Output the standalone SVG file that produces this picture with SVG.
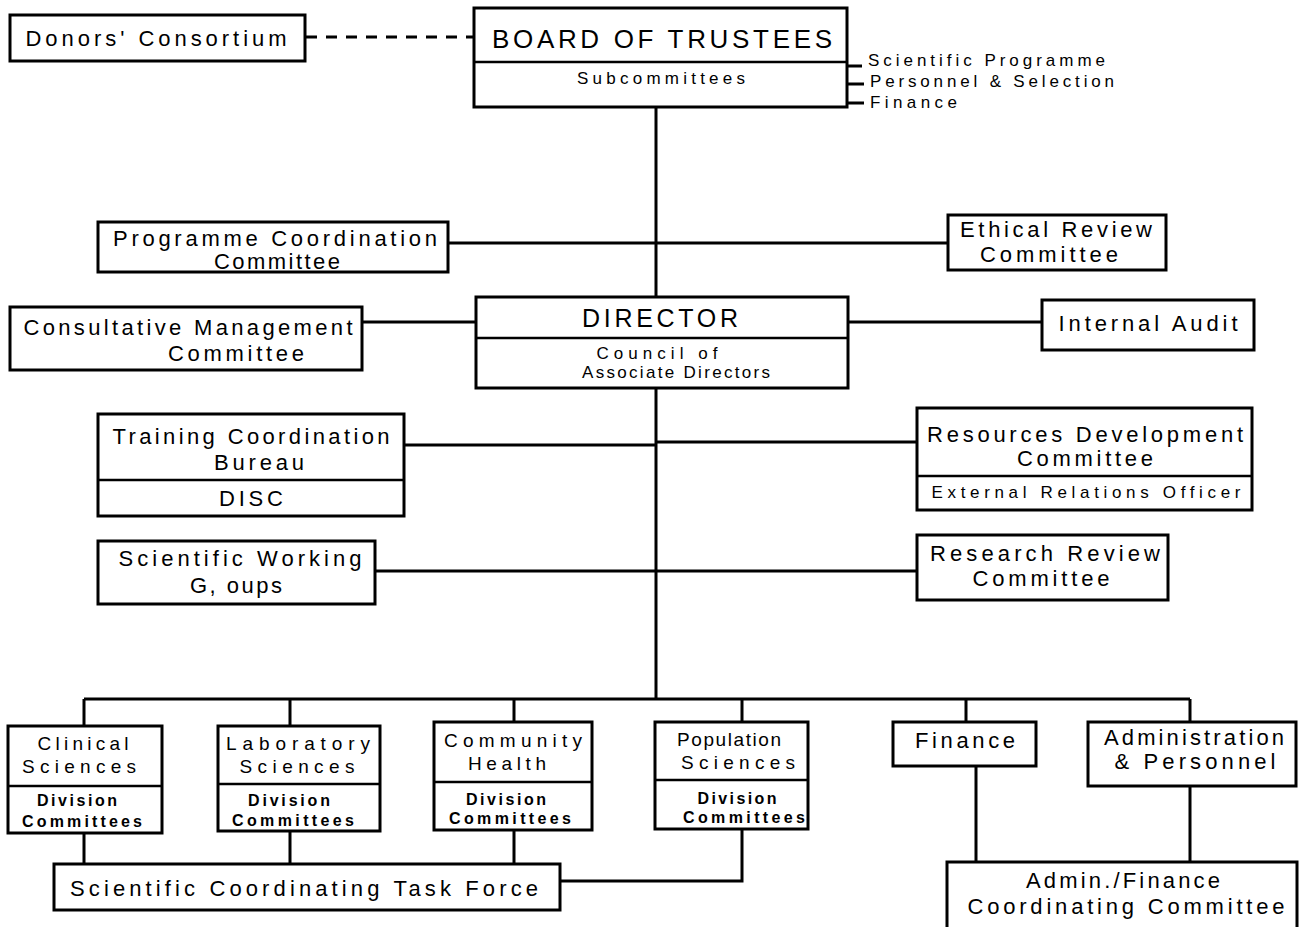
<svg xmlns="http://www.w3.org/2000/svg" width="1300" height="927" viewBox="0 0 1300 927">
<style>
.bx{fill:#fff;stroke:#000;stroke-width:3}
.dv{stroke:#000;stroke-width:2.5}
.ln{stroke:#000;stroke-width:3;fill:none}
.dash{stroke:#000;stroke-width:3;stroke-dasharray:11 9;fill:none}
text{font-family:"Liberation Sans",Arial,sans-serif;fill:#000;text-anchor:middle;font-size:22px}
.big{font-size:26px}
.dir{font-size:25px}
.t2{font-size:19px}
.sm{font-size:17px}
.sb{font-size:16px;font-weight:bold}
.lft{text-anchor:start;font-size:17px}
</style>
<rect width="1300" height="927" fill="#fff"/>
<g id="connectors">
<path class="dash" d="M306 37 H474"/>
<path class="ln" d="M656 107 V297 M656 388 V699"/>
<path class="ln" d="M448 243 H948"/>
<path class="ln" d="M362 322 H476 M848 322 H1042"/>
<path class="ln" d="M404 445 H656 M656 442 H917"/>
<path class="ln" d="M375 571 H917"/>
<path class="ln" d="M84 699 H1190 M84 699 V726 M290 699 V726 M514 699 V722 M742 699 V722 M966 699 V722 M1190 699 V722"/>
<path class="ln" d="M84 833 V864 M290 831 V864 M514 830 V864 M742 829 V881 H560"/>
<path class="ln" d="M976 766 V862 M1190 786 V862"/>
<path class="ln" d="M847 66 H862 M847 84 H864 M847 103 H864"/>
</g>
<g id="donors">
<rect class="bx" x="10" y="15" width="295" height="46"/>
<text x="156" y="46" textLength="261" lengthAdjust="spacing">Donors' Consortium</text>
</g>
<g id="board">
<rect class="bx" x="474" y="8" width="373" height="99"/>
<line class="dv" x1="474" y1="62" x2="847" y2="62"/>
<text class="big" x="662" y="48" textLength="340" lengthAdjust="spacing">BOARD OF TRUSTEES</text>
<text class="sm" x="661" y="84" textLength="168" lengthAdjust="spacing">Subcommittees</text>
<text class="lft" x="868" y="66" textLength="237" lengthAdjust="spacing">Scientific Programme</text>
<text class="lft" x="870" y="87" textLength="244" lengthAdjust="spacing">Personnel &amp; Selection</text>
<text class="lft" x="870" y="108" textLength="87" lengthAdjust="spacing">Finance</text>
</g>
<g id="programme-coordination">
<rect class="bx" x="98" y="222" width="350" height="50"/>
<text x="275" y="246" textLength="324" lengthAdjust="spacing">Programme Coordination</text>
<text x="277" y="269" textLength="126" lengthAdjust="spacing">Committee</text>
</g>
<g id="ethical-review">
<rect class="bx" x="948" y="215" width="218" height="55"/>
<text x="1056" y="237" textLength="192" lengthAdjust="spacing">Ethical Review</text>
<text x="1049" y="262" textLength="138" lengthAdjust="spacing">Committee</text>
</g>
<g id="director">
<rect class="bx" x="476" y="297" width="372" height="91"/>
<line class="dv" x1="476" y1="338" x2="848" y2="338"/>
<text class="dir" x="660" y="327" textLength="156" lengthAdjust="spacing">DIRECTOR</text>
<text class="sm" x="657" y="359" textLength="121" lengthAdjust="spacing">Council of</text>
<text class="sm" x="676" y="378" textLength="188" lengthAdjust="spacing">Associate Directors</text>
</g>
<g id="consultative-management">
<rect class="bx" x="10" y="307" width="352" height="63"/>
<text x="188" y="335" textLength="329" lengthAdjust="spacing">Consultative Management</text>
<text x="236" y="361" textLength="136" lengthAdjust="spacing">Committee</text>
</g>
<g id="internal-audit">
<rect class="bx" x="1042" y="300" width="212" height="50"/>
<text x="1148" y="331" textLength="179" lengthAdjust="spacing">Internal Audit</text>
</g>
<g id="training-coordination">
<rect class="bx" x="98" y="414" width="306" height="102"/>
<line class="dv" x1="98" y1="480" x2="404" y2="480"/>
<text x="251" y="444" textLength="277" lengthAdjust="spacing">Training Coordination</text>
<text x="259" y="470" textLength="90" lengthAdjust="spacing">Bureau</text>
<text x="251" y="506" textLength="64" lengthAdjust="spacing">DISC</text>
</g>
<g id="resources-development">
<rect class="bx" x="917" y="408" width="335" height="102"/>
<line class="dv" x1="917" y1="476" x2="1252" y2="476"/>
<text x="1085" y="442" textLength="316" lengthAdjust="spacing">Resources Development</text>
<text x="1085" y="466" textLength="136" lengthAdjust="spacing">Committee</text>
<text class="sm" x="1086" y="498" textLength="309" lengthAdjust="spacing">External Relations Officer</text>
</g>
<g id="scientific-working-groups">
<rect class="bx" x="98" y="541" width="277" height="63"/>
<text x="240" y="566" textLength="243" lengthAdjust="spacing">Scientific Working</text>
<text x="236" y="593" textLength="92" lengthAdjust="spacing">G, oups</text>
</g>
<g id="research-review">
<rect class="bx" x="917" y="535" width="251" height="65"/>
<text x="1045" y="561" textLength="230" lengthAdjust="spacing">Research Review</text>
<text x="1041" y="586" textLength="137" lengthAdjust="spacing">Committee</text>
</g>
<g id="clinical-sciences">
<rect class="bx" x="8" y="726" width="154" height="107"/>
<line class="dv" x1="8" y1="786" x2="162" y2="786"/>
<text class="t2" x="83" y="750" textLength="91" lengthAdjust="spacing">Clinical</text>
<text class="t2" x="79" y="773" textLength="114" lengthAdjust="spacing">Sciences</text>
<text class="sb" x="77" y="806" textLength="80" lengthAdjust="spacing">Division</text>
<text class="sb" x="82" y="827" textLength="120" lengthAdjust="spacing">Committees</text>
</g>
<g id="laboratory-sciences">
<rect class="bx" x="218" y="726" width="162" height="105"/>
<line class="dv" x1="218" y1="784" x2="380" y2="784"/>
<text class="t2" x="298" y="750" textLength="144" lengthAdjust="spacing">Laboratory</text>
<text class="t2" x="297" y="773" textLength="115" lengthAdjust="spacing">Sciences</text>
<text class="sb" x="289" y="806" textLength="82" lengthAdjust="spacing">Division</text>
<text class="sb" x="293" y="826" textLength="122" lengthAdjust="spacing">Committees</text>
</g>
<g id="community-health">
<rect class="bx" x="434" y="722" width="158" height="108"/>
<line class="dv" x1="434" y1="782" x2="592" y2="782"/>
<text class="t2" x="513" y="747" textLength="138" lengthAdjust="spacing">Community</text>
<text class="t2" x="507" y="770" textLength="78" lengthAdjust="spacing">Health</text>
<text class="sb" x="506" y="805" textLength="80" lengthAdjust="spacing">Division</text>
<text class="sb" x="510" y="824" textLength="122" lengthAdjust="spacing">Committees</text>
</g>
<g id="population-sciences">
<rect class="bx" x="655" y="722" width="153" height="107"/>
<line class="dv" x1="655" y1="780" x2="808" y2="780"/>
<text class="t2" x="729" y="746" textLength="104" lengthAdjust="spacing">Population</text>
<text class="t2" x="738" y="769" textLength="114" lengthAdjust="spacing">Sciences</text>
<text class="sb" x="737" y="804" textLength="79" lengthAdjust="spacing">Division</text>
<text class="sb" x="744" y="823" textLength="122" lengthAdjust="spacing">Committees</text>
</g>
<g id="finance">
<rect class="bx" x="893" y="722" width="143" height="44"/>
<text x="965" y="748" textLength="100" lengthAdjust="spacing">Finance</text>
</g>
<g id="administration-personnel">
<rect class="bx" x="1088" y="722" width="208" height="64"/>
<text x="1194" y="745" textLength="180" lengthAdjust="spacing">Administration</text>
<text x="1195" y="769" textLength="161" lengthAdjust="spacing">&amp; Personnel</text>
</g>
<g id="scientific-coordinating-task-force">
<rect class="bx" x="54" y="864" width="506" height="46"/>
<text x="304" y="896" textLength="468" lengthAdjust="spacing">Scientific Coordinating Task Force</text>
</g>
<g id="admin-finance-coordinating">
<rect class="bx" x="947" y="862" width="350" height="70"/>
<text x="1123" y="888" textLength="194" lengthAdjust="spacing">Admin./Finance</text>
<text x="1126" y="914" textLength="317" lengthAdjust="spacing">Coordinating Committee</text>
</g>
</svg>
